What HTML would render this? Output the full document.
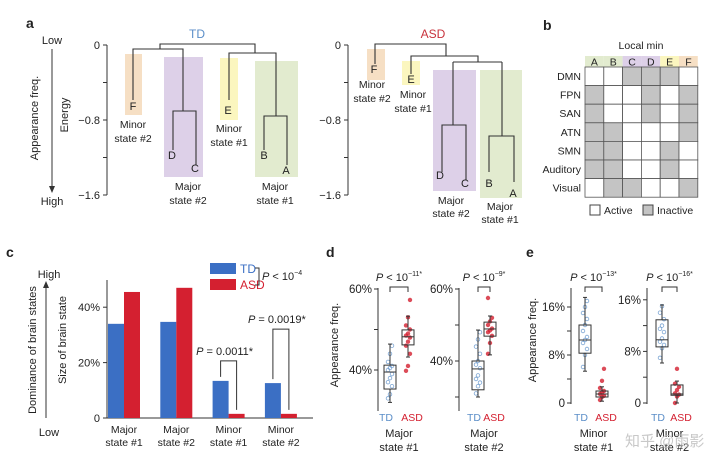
<!DOCTYPE html>
<html><head><meta charset="utf-8">
<style>
html,body{margin:0;padding:0;background:#fff;}
svg{display:block;font-family:"Liberation Sans","Noto Sans CJK SC",sans-serif;}
</style></head>
<body>
<svg id="fig" width="720" height="460" viewBox="0 0 720 460" xmlns="http://www.w3.org/2000/svg">
<g font-size="11" fill="#222">
<!-- Panel a -->
<text x="26" y="28" font-size="14" font-weight="bold">a</text>
<text x="52" y="44" text-anchor="middle">Low</text>
<text x="52" y="205" text-anchor="middle">High</text>
<line x1="52" y1="49" x2="52" y2="188" stroke="#333"/>
<path d="M49,186 L52,193 L55,186 Z" fill="#333"/>
<text transform="translate(38,118) rotate(-90)" text-anchor="middle">Appearance freq.</text>
<text transform="translate(68,115) rotate(-90)" text-anchor="middle">Energy</text>
<g stroke="#333">
<line x1="107" y1="45" x2="107" y2="195"/>
<line x1="103" y1="45" x2="107" y2="45"/><line x1="103" y1="82.5" x2="107" y2="82.5"/><line x1="103" y1="120" x2="107" y2="120"/><line x1="103" y1="157.5" x2="107" y2="157.5"/><line x1="103" y1="195" x2="107" y2="195"/>
</g>
<text x="100" y="49" text-anchor="end">0</text>
<text x="100" y="124" text-anchor="end">−0.8</text>
<text x="100" y="199" text-anchor="end">−1.6</text>
<text x="197" y="38" text-anchor="middle" fill="#5b8ec8" font-size="12">TD</text>
<rect x="125" y="54" width="17" height="61" fill="#f6dfc4"/>
<rect x="164" y="57" width="39" height="120" fill="#ddd0e8"/>
<rect x="220" y="58" width="18" height="62" fill="#fbf6bf"/>
<rect x="255" y="61" width="43" height="116" fill="#e2ebcf"/>
<path fill="none" stroke="#333" stroke-width="1.1"
 d="M160,49 V44 H255 V53 M133,100 V49 H183 V111 M173,150 V111 H196 V165 M229,100 V53 H276 V116 M264,150 V116 H287 V165"/>
<text x="133" y="110" text-anchor="middle">F</text>
<text x="172" y="159" text-anchor="middle">D</text>
<text x="195" y="172" text-anchor="middle">C</text>
<text x="228" y="114" text-anchor="middle">E</text>
<text x="264" y="159" text-anchor="middle">B</text>
<text x="286" y="174" text-anchor="middle">A</text>
<text x="133" y="128" text-anchor="middle" font-size="10.5">Minor</text><text x="133" y="142" text-anchor="middle" font-size="10.5">state #2</text>
<text x="188" y="190" text-anchor="middle" font-size="10.5">Major</text><text x="188" y="204" text-anchor="middle" font-size="10.5">state #2</text>
<text x="229" y="132" text-anchor="middle" font-size="10.5">Minor</text><text x="229" y="146" text-anchor="middle" font-size="10.5">state #1</text>
<text x="275" y="190" text-anchor="middle" font-size="10.5">Major</text><text x="275" y="204" text-anchor="middle" font-size="10.5">state #1</text>

<g stroke="#333">
<line x1="348" y1="45" x2="348" y2="195"/>
<line x1="344" y1="45" x2="348" y2="45"/><line x1="344" y1="82.5" x2="348" y2="82.5"/><line x1="344" y1="120" x2="348" y2="120"/><line x1="344" y1="157.5" x2="348" y2="157.5"/><line x1="344" y1="195" x2="348" y2="195"/>
</g>
<text x="341" y="49" text-anchor="end">0</text>
<text x="341" y="124" text-anchor="end">−0.8</text>
<text x="341" y="199" text-anchor="end">−1.6</text>
<text x="433" y="38" text-anchor="middle" fill="#c8323c" font-size="12">ASD</text>
<rect x="367" y="49" width="18" height="31" fill="#f6dfc4"/>
<rect x="402" y="61" width="18" height="24" fill="#fbf6bf"/>
<rect x="433" y="70" width="43" height="121" fill="#ddd0e8"/>
<rect x="480" y="70" width="42" height="128" fill="#e2ebcf"/>
<path fill="none" stroke="#333" stroke-width="1.1"
 d="M375,64 V44 H446 V56 M411,74 V56 H478 V62 M453,62 H502 M453,62 V125 M442,172 V125 H466 V180 M502,62 V136 M489,172 V136 H514 V182"/>
<text x="374" y="73" text-anchor="middle">F</text>
<text x="411" y="83" text-anchor="middle">E</text>
<text x="440" y="179" text-anchor="middle">D</text>
<text x="465" y="187" text-anchor="middle">C</text>
<text x="489" y="187" text-anchor="middle">B</text>
<text x="513" y="197" text-anchor="middle">A</text>
<text x="372" y="88" text-anchor="middle" font-size="10.5">Minor</text><text x="372" y="102" text-anchor="middle" font-size="10.5">state #2</text>
<text x="413" y="98" text-anchor="middle" font-size="10.5">Minor</text><text x="413" y="112" text-anchor="middle" font-size="10.5">state #1</text>
<text x="451" y="204" text-anchor="middle" font-size="10.5">Major</text><text x="451" y="217" text-anchor="middle" font-size="10.5">state #2</text>
<text x="500" y="210" text-anchor="middle" font-size="10.5">Major</text><text x="500" y="223" text-anchor="middle" font-size="10.5">state #1</text>

<!-- Panel b -->
<text x="543" y="30" font-size="14" font-weight="bold">b</text>
<text x="641" y="49" text-anchor="middle" font-size="10.5">Local min</text>
<g id="grid"></g>
<rect x="590" y="205" width="10" height="10" fill="#fff" stroke="#444"/>
<text x="604" y="214" font-size="10.5">Active</text>
<rect x="643" y="205" width="10" height="10" fill="#c4c4c4" stroke="#444"/>
<text x="657" y="214" font-size="10.5">Inactive</text>

<!-- Panel c -->
<text x="6" y="257" font-size="14" font-weight="bold">c</text>
<text x="49" y="278" text-anchor="middle">High</text>
<text x="49" y="436" text-anchor="middle">Low</text>
<line x1="46" y1="418" x2="46" y2="286" stroke="#333"/>
<path d="M43,288 L46,281 L49,288 Z" fill="#333"/>
<text transform="translate(36,350) rotate(-90)" text-anchor="middle">Dominance of brain states</text>
<text transform="translate(66,340) rotate(-90)" text-anchor="middle">Size of brain state</text>
<g id="chartC"></g>
<rect x="210" y="263" width="26" height="11" fill="#3b6fc4"/>
<text x="240" y="273" fill="#3b6fc4" font-size="12">TD</text>
<rect x="210" y="279" width="26" height="11" fill="#d42030"/>
<text x="240" y="289" fill="#d42030" font-size="12">ASD</text>
<path d="M255,268 H259 V285 H255" fill="none" stroke="#333"/>
<text x="262" y="280"><tspan font-style="italic">P</tspan> &lt; 10<tspan font-size="7" dy="-5">−4</tspan></text>

<!-- Panel d / e -->
<text x="326" y="257" font-size="14" font-weight="bold">d</text>
<text x="526" y="257" font-size="14" font-weight="bold">e</text>
<text transform="translate(338,345) rotate(-90)" text-anchor="middle">Appearance freq.</text>
<text transform="translate(536,340) rotate(-90)" text-anchor="middle">Appearance freq.</text>
<g id="boxes"></g>
<text x="625" y="446" font-size="15" fill="#bbb" opacity="0.8">知乎 @雨影</text>
</g>
</svg>
<script>
// ---- panel b grid data ----
const gridRows = ["DMN","FPN","SAN","ATN","SMN","Auditory","Visual"];
const gridCols = ["A","B","C","D","E","F"];
const gridInactive = [
 [0,0,1,1,1,0],
 [1,0,0,1,0,1],
 [1,0,0,1,0,1],
 [1,1,0,0,0,1],
 [1,1,0,0,1,0],
 [1,1,0,0,1,0],
 [0,1,1,0,0,1]
];
// ---- panel c bar data ----
const barCategories = ["Major state #1","Major state #2","Minor state #1","Minor state #2"];
const barTD = [34, 34.7, 13.4, 12.6];
const barASD = [45.5, 47, 1.5, 1.5];
const barTicks = [0, 20, 40];
const barPLabels = ["", "", "P = 0.0011*", "P = 0.0019*"];
// ---- panel d/e box data (percent) ----
const boxTitles = ["Major state #1","Major state #2","Minor state #1","Minor state #2"];
const boxP = ["−11","−9","−13","−16"];
const tdStats = [[32,35.3,39.5,41.2,46.4],[30,32,37.8,40,48.6],[5.3,8.3,10.5,13,17.6],[6.2,8.7,9.8,12.9,15.2]];
const asdStats = [[43.2,46.2,48.2,49.9,53.3],[41.7,46.9,48.9,50.8,52.5],[0.3,1.0,1.5,2.0,2.7],[0,1.2,1.4,2.8,3.4]];
const tdPoints = [[33,34,36,37,38,39,40,40.5,41,42,44,46],[31,33,34,35,36,38,39,40,42,44,46,48],[6,8,9,10,10.5,11,12,13,14,15,16,17],[7,8.5,9,9.5,10,11,11.5,12,13,14,15]];
const asdPoints = [[39.8,41,44,46,47,48,48.5,49,50,51,53,57.3],[42,45,47,48,48.5,49,50,51,52,57.5],[0.5,1,1.2,1.5,1.8,2,2.5,3.7,5.7],[0,1,1.3,1.5,2,2.5,3,5.3]];
const boxTickLabels = [["60%","40%"],["60%","40%"],["16%","8%","0"],["16%","8%","0"]];
const boxTickVals = [[60,40],[60,40],[16,8,0],[16,8,0]];
const boxMinorTicks = [[60,50,40],[60,50,40,30],[16,12,8,4,0],[16,12,8,4,0]];

const NS="http://www.w3.org/2000/svg";
function mk(parent, tag, attrs, text){
  const e=document.createElementNS(NS,tag);
  for(const k in attrs) e.setAttribute(k,attrs[k]);
  if(text!==undefined) e.textContent=text;
  parent.appendChild(e); return e;
}
// grid
const grid=document.getElementById('grid');
const gx0=585, gy0=67, cw=18.8, ch=18.6;
const headColors=["#e2ebcf","#e2ebcf","#ddd0e8","#ddd0e8","#fbf6bf","#f6dfc4"];
gridCols.forEach((c,j)=>{
  const r=mk(grid,'rect',{x:gx0+j*cw,y:56,width:cw,height:11,fill:headColors[j]});
  
  
  mk(grid,'text',{x:gx0+j*cw+cw/2,y:65.5,'text-anchor':'middle','font-size':'10.5'},c);
});
gridRows.forEach((rn,i)=>{
  const t=mk(grid,'text',{x:gx0-4,y:gy0+i*ch+13,'text-anchor':'end','font-size':'10.5'},rn);
  
  
  gridCols.forEach((c,j)=>{
    const r=mk(grid,'rect',{x:gx0+j*cw,y:gy0+i*ch,width:cw,height:ch,fill:gridInactive[i][j]?'#c4c4c4':'#fff',stroke:'#555','stroke-width':'0.8'});
    
    
  });
});
// bar chart
const C=document.getElementById('chartC');
const cY0=418, cPx=2.77;
const cy=v=>cY0-v*cPx;
const cx=i=>124+i*52.3;
mk(C,'line',{x1:107,y1:280,x2:107,y2:418,stroke:'#333'});
mk(C,'line',{x1:107,y1:418,x2:313,y2:418,stroke:'#333'});
barTicks.forEach(v=>{
  mk(C,'line',{x1:103,y1:cy(v),x2:107,y2:cy(v),stroke:'#333'});
  mk(C,'text',{x:100,y:cy(v)+4,'text-anchor':'end'},v===0?'0':v+'%');
});
barCategories.forEach((cat,i)=>{
  const b1=mk(C,'rect',{x:cx(i)-16,y:cy(barTD[i]),width:16,height:barTD[i]*cPx,fill:'#3b6fc4'});
  
  
  const b2=mk(C,'rect',{x:cx(i),y:cy(barASD[i]),width:16,height:barASD[i]*cPx,fill:'#d42030'});
  
  
  const w=cat.split(' ');
  mk(C,'text',{x:cx(i),y:433,'text-anchor':'middle','font-size':'10.5'},w[0]);
  mk(C,'text',{x:cx(i),y:446,'text-anchor':'middle','font-size':'10.5'},w[1]+' '+w[2]);
  if(barPLabels[i]){
    const top=cy(barTD[i])-(i===2?20:54);
    mk(C,'path',{d:`M${cx(i)-8},${cy(barTD[i])-4} V${top} H${cx(i)+8} V${cy(barASD[i])-4}`,fill:'none',stroke:'#333'});
    const t=mk(C,'text',{x:cx(i)-4,y:top-6,'text-anchor':'middle'});
    mk(t,'tspan',{'font-style':'italic'},'P');
    mk(t,'tspan',{},barPLabels[i].slice(1));
  }
});
// box plots
const B=document.getElementById('boxes');
const axX=[378,459,571,647];
const y0s=[370,361,403,403];
const refV=[40,40,0,0];
const pxPer=[4.05,3.6,6.0,6.45];
const tdX=[390,478,585,662], asdX=[408,490,602,677];
boxTitles.forEach((title,k)=>{
  const Y=v=>y0s[k]-(v-refV[k])*pxPer[k];
  const top=288, bot=k<2?411:404;
  mk(B,'line',{x1:axX[k],y1:top,x2:axX[k],y2:bot,stroke:'#333'});
  boxMinorTicks[k].forEach(v=>mk(B,'line',{x1:axX[k]-4,y1:Y(v),x2:axX[k],y2:Y(v),stroke:'#333'}));
  boxTickVals[k].forEach((v,i)=>mk(B,'text',{x:axX[k]-6,y:Y(v)+4,'text-anchor':'end','font-size':'11.5'},boxTickLabels[k][i]));
  [[tdStats,tdPoints,tdX,'#5b8ec8','td',-4],[asdStats,asdPoints,asdX,'#d42030','asd',4]].forEach(([S,P,X,col,nm,off])=>{
    const s=S[k], x=X[k], hw=6;
    P[k].forEach((v,i)=>{
      const c=mk(B,'circle',{cx:x+((i%3)-1)*2,cy:Y(v),r:1.8,fill:nm==='td'?'none':col,stroke:col,'stroke-width':'0.8',opacity:'0.8'});
      
      
    });
    mk(B,'line',{x1:x,y1:Y(s[0]),x2:x,y2:Y(s[1]),stroke:'#333'});
    mk(B,'line',{x1:x,y1:Y(s[3]),x2:x,y2:Y(s[4]),stroke:'#333'});
    mk(B,'line',{x1:x-2,y1:Y(s[0]),x2:x+2,y2:Y(s[0]),stroke:'#333'});
    mk(B,'line',{x1:x-2,y1:Y(s[4]),x2:x+2,y2:Y(s[4]),stroke:'#333'});
    const r=mk(B,'rect',{x:x-hw,y:Y(s[3]),width:hw*2,height:Y(s[1])-Y(s[3]),fill:'none',stroke:'#333'});
    
    
    mk(B,'line',{x1:x-hw,y1:Y(s[2]),x2:x+hw,y2:Y(s[2]),stroke:'#333'});
    mk(B,'text',{x:x+off,y:421,'text-anchor':'middle',fill:col,'font-size':'10.5'},nm.toUpperCase());
  });
  const mx=(tdX[k]+asdX[k])/2;
  mk(B,'path',{d:`M${tdX[k]},292 V287 H${asdX[k]} V292`,fill:'none',stroke:'#333'});
  const t=mk(B,'text',{x:mx,y:281,'text-anchor':'middle','font-size':'11'});
  mk(t,'tspan',{'font-style':'italic'},'P');
  mk(t,'tspan',{},' < 10');
  mk(t,'tspan',{'font-size':'7',dy:'-5'},boxP[k]+'*');
  const w=title.split(' ');
  mk(B,'text',{x:mx,y:437,'text-anchor':'middle','font-size':'11'},w[0]);
  mk(B,'text',{x:mx,y:451,'text-anchor':'middle','font-size':'11'},w[1]+' '+w[2]);
});
</script>
</body></html>
